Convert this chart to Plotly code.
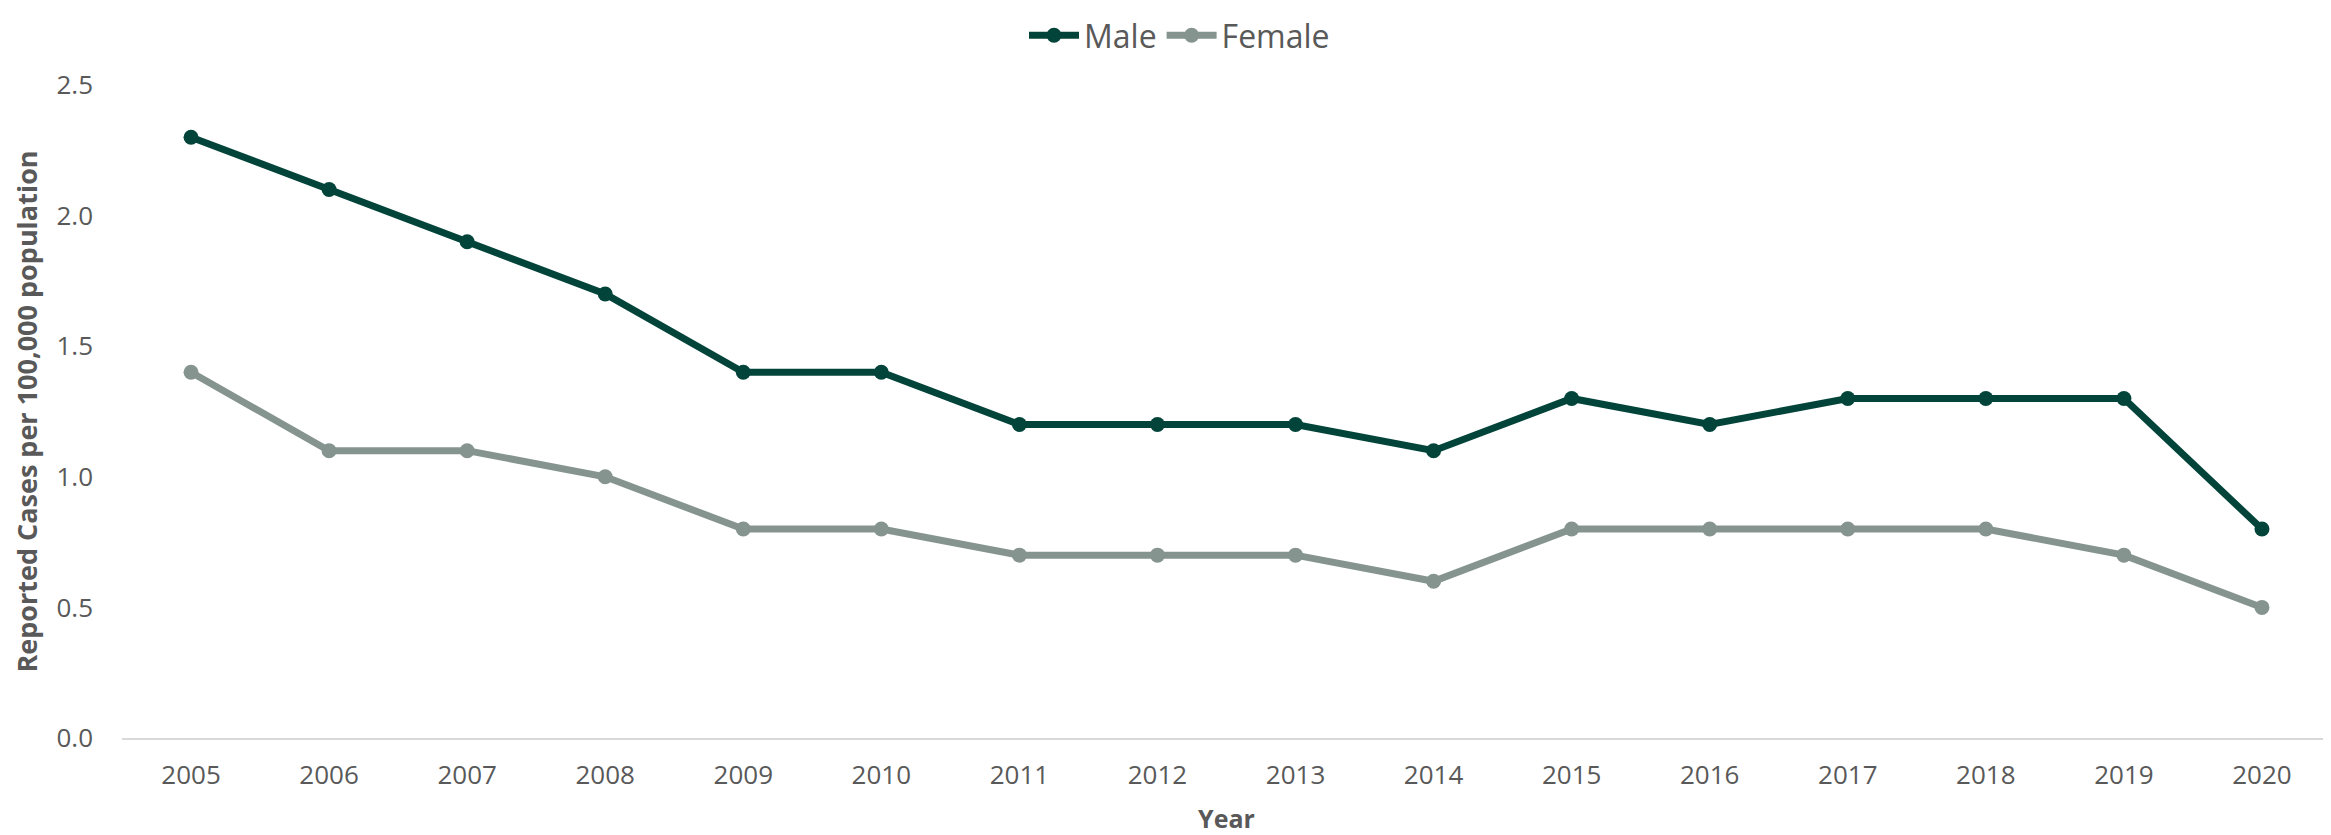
import plotly.graph_objects as go

years = [str(y) for y in range(2005, 2021)]
male = [2.3, 2.1, 1.9, 1.7, 1.4, 1.4, 1.2, 1.2, 1.2, 1.1, 1.3, 1.2, 1.3, 1.3, 1.3, 0.8]
female = [1.4, 1.1, 1.1, 1.0, 0.8, 0.8, 0.7, 0.7, 0.7, 0.6, 0.8, 0.8, 0.8, 0.8, 0.7, 0.5]
y_ticks = [0.0, 0.5, 1.0, 1.5, 2.0, 2.5]

MALE_C = "#02443a"
FEMALE_C = "#869490"
TXT = "#595959"
FONT = "Open Sans"

fig = go.Figure()
fig.add_trace(go.Scatter(x=years, y=male, name="Male", mode="lines+markers",
                         line=dict(color=MALE_C, width=7),
                         marker=dict(color=MALE_C, size=15)))
fig.add_trace(go.Scatter(x=years, y=female, name="Female", mode="lines+markers",
                         line=dict(color=FEMALE_C, width=7),
                         marker=dict(color=FEMALE_C, size=15)))

# page body has an 8px margin, so the figure is sized/offset to compensate
fig.update_layout(
    width=2323, height=827,
    margin=dict(l=114, r=0, t=77, b=97),
    paper_bgcolor="white", plot_bgcolor="white",
    font=dict(family=FONT, color=TXT),
    legend=dict(orientation="h", xref="container", x=0.5 + 10 / 2323,
                xanchor="center",
                yref="container", y=1.0, yanchor="top",
                font=dict(size=32, color=TXT), itemwidth=50,
                tracegroupgap=0),
    xaxis=dict(type="category", range=[-0.5, 15.5], automargin=False,
               showgrid=False, showline=True,
               linecolor="#d9d9d9", linewidth=2, ticks="",
               tickfont=dict(size=26, color=TXT), ticklabelstandoff=13,
               title=dict(text="<b>Year</b>", font=dict(size=25, color=TXT),
                          standoff=34)),
    yaxis=dict(range=[0, 2.5], tickvals=y_ticks, tickformat=".1f",
               automargin=False,
               showgrid=False, zeroline=False, showline=False, ticks="",
               tickfont=dict(size=26, color=TXT), ticklabelstandoff=28,
               title=dict(text="<b>Reported Cases per 100,000 population</b>",
                          font=dict(size=27, color=TXT), standoff=12)),
)

fig.write_html("out.html")
